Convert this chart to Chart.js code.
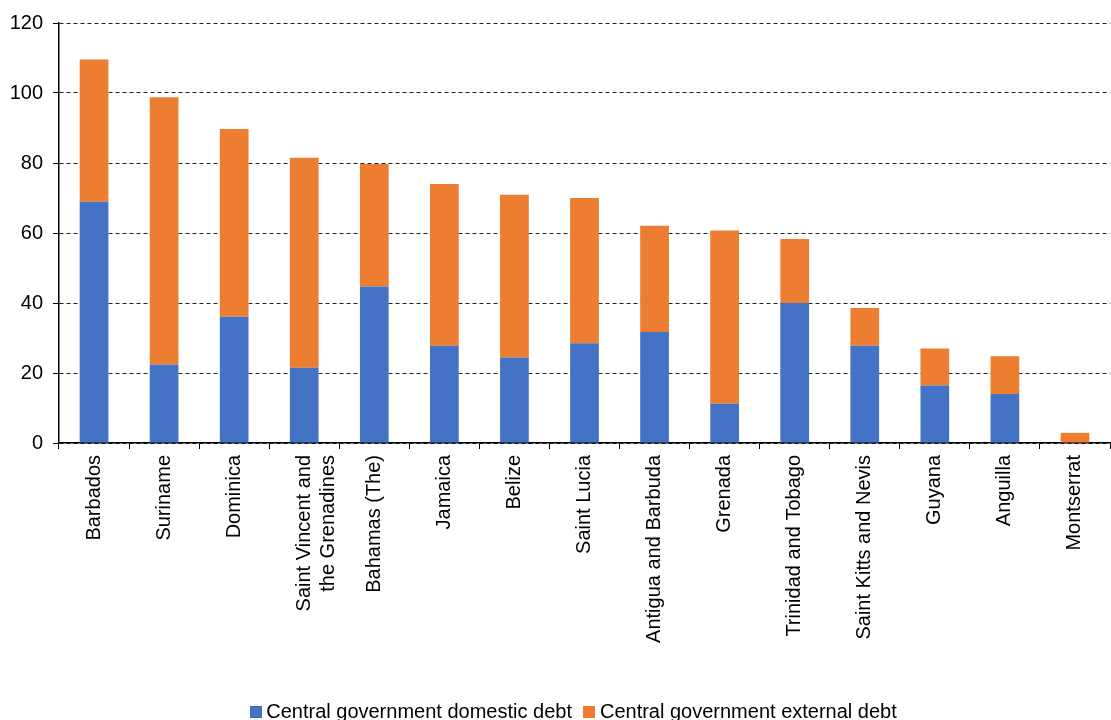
<!DOCTYPE html>
<html>
<head>
<meta charset="utf-8">
<script src="https://cdn.jsdelivr.net/npm/chart.js@4/dist/chart.umd.min.js"></script>
<style>
  body { margin: 0; background: #fff; }
  #wrap { width: 1111px; height: 720px; position: relative; }
</style>
</head>
<body>
<div id="wrap"><canvas id="debtChart"></canvas></div>
<script>
const countries = [
    'Barbados', 'Suriname', 'Dominica', ['Saint Vincent and', 'the Grenadines'], 'Bahamas (The)',
    'Jamaica', 'Belize', 'Saint Lucia', 'Antigua and Barbuda', 'Grenada',
    'Trinidad and Tobago', 'Saint Kitts and Nevis', 'Guyana', 'Anguilla', 'Montserrat'
];
const domesticDebt = [68.9, 22.4, 36.1, 21.5, 44.7, 27.8, 24.4, 28.5, 31.7, 11.2, 40.0, 27.8, 16.4, 14.0, 0];
const externalDebt = [40.7, 76.4, 53.6, 60.0, 35.0, 46.2, 46.5, 41.5, 30.4, 49.5, 18.3, 10.8, 10.6, 10.8, 2.9];
const yTicks = [0, 20, 40, 60, 80, 100, 120];

const font = { family: '"Liberation Sans", Arial, sans-serif', size: 20 };

// small square swatches for the legend (closer to the text than the default box)
function swatch(color) {
    const c = document.createElement('canvas');
    c.width = 12;
    c.height = 12;
    const g = c.getContext('2d');
    g.fillStyle = color;
    g.fillRect(0, 0, 12, 12);
    return c;
}

// the legend in the original sits a bit right of centre
const legendShift = {
    id: 'legendShift',
    afterLayout(chart) {
        chart.legend.left += 21;
        chart.legend.right += 21;
    }
};

const ctx = document.getElementById('debtChart').getContext('2d');
new Chart(ctx, {
    type: 'bar',
    data: {
        labels: countries,
        datasets: [{
            label: 'Central government domestic debt',
            data: domesticDebt,
            backgroundColor: '#4472C4',
            pointStyle: swatch('#4472C4')
        }, {
            label: 'Central government external debt',
            data: externalDebt,
            backgroundColor: '#ED7D31',
            pointStyle: swatch('#ED7D31')
        }]
    },
    plugins: [legendShift],
    options: {
        responsive: true,
        maintainAspectRatio: false,
        animation: false,
        datasets: { bar: { barPercentage: 0.41, categoryPercentage: 1 } },
        layout: { padding: { top: 23, right: 1, left: 0, bottom: -12 } },
        plugins: {
            tooltip: { enabled: false },
            legend: {
                position: 'bottom',
                labels: { font, color: '#000', usePointStyle: true, boxWidth: 1, boxHeight: 12, padding: 17 }
            }
        },
        scales: {
            x: {
                stacked: true,
                grid: { display: true, drawOnChartArea: false, drawTicks: true, tickLength: 6, tickColor: '#000', offset: true },
                border: { display: true, color: '#000', width: 1.5 },
                ticks: { font, color: '#000', minRotation: 90, maxRotation: 90, padding: 6, autoSkip: false },
                afterFit: scale => { scale.height = 242; }
            },
            y: {
                stacked: true,
                min: 0,
                max: 120,
                afterBuildTicks: scale => { scale.ticks = yTicks.map(v => ({ value: v })); },
                grid: { color: '#222', lineWidth: 1, drawTicks: true, tickLength: 6, tickColor: '#000' },
                border: { display: true, color: '#000', width: 1.5, dash: [4, 3] },
                ticks: { font, color: '#000', padding: 10 },
                afterFit: scale => { scale.width = 59; }
            }
        }
    }
});
</script>
</body>
</html>
